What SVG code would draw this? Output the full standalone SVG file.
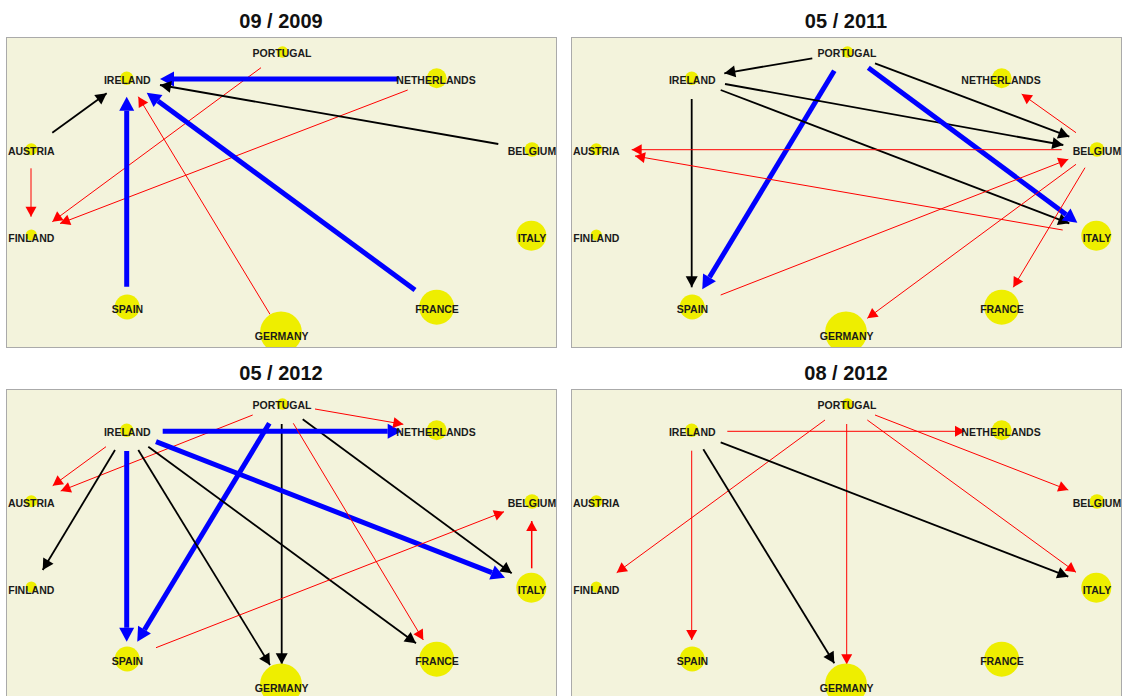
<svg xmlns="http://www.w3.org/2000/svg" width="1123" height="696" viewBox="0 0 1123 696">
<style>
.panel{fill:#f3f3dc;stroke:#aaaaaa;stroke-width:1}
.title{font-family:"Liberation Sans",Arial,sans-serif;font-weight:bold;font-size:20px;fill:#111;text-anchor:middle}
.lbl{font-family:"Liberation Sans",Arial,sans-serif;font-weight:bold;font-size:10.5px;fill:#1a1a1a;text-anchor:middle}
.v{fill:#eeee00}
.r{stroke:#ff0000;stroke-width:1;fill:none;marker-end:url(#mr)}
.k{stroke:#000;stroke-width:1.8;fill:none;marker-end:url(#mk)}
.b{stroke:#0000ff;stroke-width:5;fill:none;marker-end:url(#mb)}
</style>
<defs>
<marker id="mr" markerUnits="userSpaceOnUse" orient="auto" refX="10" refY="0" markerWidth="10" markerHeight="11" overflow="visible"><path d="M0,-5.5 L10,0 L0,5.5 Z" fill="#ff0000"/></marker>
<marker id="mk" markerUnits="userSpaceOnUse" orient="auto" refX="11" refY="0" markerWidth="11" markerHeight="12" overflow="visible"><path d="M0,-6 L11,0 L0,6 Z" fill="#000"/></marker>
<marker id="mb" markerUnits="userSpaceOnUse" orient="auto" refX="0" refY="0" markerWidth="14" markerHeight="15" overflow="visible"><path d="M0,-7.5 L14,0 L0,7.5 Z" fill="#0000ff"/></marker>
<clipPath id="cp"><rect x="6.5" y="37.5" width="550" height="310"/></clipPath>
</defs>
<rect width="1123" height="696" fill="#ffffff"/>

<g id="titles">
<text class="title" x="281" y="28">09 / 2009</text>
<text class="title" x="846" y="28">05 / 2011</text>
<text class="title" x="281" y="380">05 / 2012</text>
<text class="title" x="846" y="380">08 / 2012</text>
</g>

<g id="panels">
<rect class="panel" x="6.5" y="37.5" width="550" height="310"/>
<rect class="panel" x="571.5" y="37.5" width="550" height="310"/>
<rect class="panel" x="6.5" y="389.5" width="550" height="310"/>
<rect class="panel" x="571.5" y="389.5" width="550" height="310"/>
</g>

<g id="connectors">
<!-- panel 1 -->
<line class="k" x1="52.3" y1="132.7" x2="106.7" y2="93.3"/>
<line class="r" x1="261" y1="67.7" x2="52.3" y2="221.7"/>
<line class="r" x1="407.7" y1="90" x2="60" y2="223.5"/>
<line class="r" x1="31" y1="168.3" x2="31" y2="216.7"/>
<line class="b" x1="398.3" y1="79" x2="174" y2="79"/>
<line class="k" x1="498.3" y1="144" x2="160" y2="85"/>
<line class="b" x1="126.7" y1="286.7" x2="126.7" y2="110.7"/>
<line class="r" x1="270" y1="314.3" x2="138.3" y2="96.7"/>
<line class="b" x1="415" y1="290" x2="158" y2="101"/>
<!-- panel 2 -->
<line class="k" x1="812.3" y1="58.3" x2="724.3" y2="73.3"/>
<line class="k" x1="691.7" y1="99" x2="691.7" y2="287.3"/>
<line class="b" x1="834.3" y1="70.7" x2="709.5" y2="277.3"/>
<line class="k" x1="725" y1="84" x2="1063.3" y2="145"/>
<line class="k" x1="875" y1="63.3" x2="1069.3" y2="136.7"/>
<line class="k" x1="720.7" y1="90" x2="1069.3" y2="223.3"/>
<line class="b" x1="868.3" y1="67.7" x2="1066.1" y2="214.4"/>
<line class="r" x1="1061.7" y1="149.7" x2="631.7" y2="149.7"/>
<line class="r" x1="1062.7" y1="230" x2="635" y2="156"/>
<line class="r" x1="720.7" y1="295" x2="1068.3" y2="159.3"/>
<line class="r" x1="1076" y1="132.7" x2="1021.7" y2="94"/>
<line class="r" x1="1076" y1="164.3" x2="867.3" y2="318.3"/>
<line class="r" x1="1085" y1="167.7" x2="1013.3" y2="287.3"/>
<!-- panel 3 -->
<line class="r" x1="106" y1="446.7" x2="52.7" y2="485.7"/>
<line class="r" x1="252.7" y1="415" x2="60.7" y2="491"/>
<line class="k" x1="115" y1="450" x2="42.7" y2="570"/>
<line class="b" x1="126.7" y1="451" x2="126.7" y2="627.7"/>
<line class="b" x1="269.3" y1="423.3" x2="144.5" y2="629.7"/>
<line class="k" x1="138.3" y1="450" x2="270" y2="665"/>
<line class="k" x1="281.7" y1="424" x2="281.7" y2="664.3"/>
<line class="k" x1="148.3" y1="446.7" x2="416" y2="643.3"/>
<line class="k" x1="302.7" y1="419.3" x2="511.7" y2="573.3"/>
<line class="b" x1="156" y1="441.7" x2="492" y2="572.6"/>
<line class="b" x1="162.7" y1="431.3" x2="387.7" y2="431.3"/>
<line class="r" x1="315" y1="409" x2="403.3" y2="424.3"/>
<line class="r" x1="293.3" y1="423.3" x2="423.3" y2="640"/>
<line class="r" x1="156" y1="647.7" x2="504" y2="511.7"/>
<line class="r" x1="531.7" y1="568.3" x2="531.7" y2="521" style="stroke-width:1.5"/>
<!-- panel 4 -->
<line class="r" x1="727.3" y1="431.3" x2="965" y2="431.3"/>
<line class="r" x1="825" y1="420" x2="616.7" y2="572.7"/>
<line class="r" x1="691.7" y1="450.7" x2="691.7" y2="640"/>
<line class="k" x1="703.3" y1="449.3" x2="834.3" y2="663.3"/>
<line class="r" x1="846.7" y1="424" x2="846.7" y2="664.3"/>
<line class="k" x1="720.7" y1="442.3" x2="1068.3" y2="576.7"/>
<line class="r" x1="875" y1="415" x2="1068.3" y2="490"/>
<line class="r" x1="867.3" y1="420" x2="1076" y2="572.3"/>
</g>

<g id="panel1-nodes" clip-path="url(#cp)">
<g id="p1-ireland"><circle class="v" cx="126.7" cy="78.3" r="6.7"/><text class="lbl" x="127.3" y="84">IRELAND</text></g>
<g id="p1-portugal"><circle class="v" cx="282.5" cy="52" r="5.8"/><text class="lbl" x="282" y="57.3">PORTUGAL</text></g>
<g id="p1-netherlands"><circle class="v" cx="436.7" cy="78.3" r="10"/><text class="lbl" x="436" y="83.7">NETHERLANDS</text></g>
<g id="p1-austria"><circle class="v" cx="31.3" cy="149.2" r="6"/><text class="lbl" x="31.3" y="155">AUSTRIA</text></g>
<g id="p1-belgium"><circle class="v" cx="532" cy="149.5" r="7.3"/><text class="lbl" x="532" y="154.7">BELGIUM</text></g>
<g id="p1-finland"><circle class="v" cx="31.3" cy="235" r="5.5"/><text class="lbl" x="31.3" y="241.7">FINLAND</text></g>
<g id="p1-italy"><circle class="v" cx="531.3" cy="235.7" r="15"/><text class="lbl" x="532" y="241.7">ITALY</text></g>
<g id="p1-spain"><circle class="v" cx="127.2" cy="307" r="12.5"/><text class="lbl" x="127.5" y="313">SPAIN</text></g>
<g id="p1-germany"><circle class="v" cx="281" cy="332.5" r="21"/><text class="lbl" x="281.7" y="339.7">GERMANY</text></g>
<g id="p1-france"><circle class="v" cx="436.7" cy="307.2" r="17.5"/><text class="lbl" x="437" y="313">FRANCE</text></g>
</g>

<g transform="translate(565,0)">
<g id="panel2-nodes" clip-path="url(#cp)">
<g id="p2-ireland"><circle class="v" cx="126.7" cy="78.3" r="6.7"/><text class="lbl" x="127.3" y="84">IRELAND</text></g>
<g id="p2-portugal"><circle class="v" cx="282.5" cy="52" r="5.8"/><text class="lbl" x="282" y="57.3">PORTUGAL</text></g>
<g id="p2-netherlands"><circle class="v" cx="436.7" cy="78.3" r="10"/><text class="lbl" x="436" y="83.7">NETHERLANDS</text></g>
<g id="p2-austria"><circle class="v" cx="31.3" cy="149.2" r="6"/><text class="lbl" x="31.3" y="155">AUSTRIA</text></g>
<g id="p2-belgium"><circle class="v" cx="532" cy="149.5" r="7.3"/><text class="lbl" x="532" y="154.7">BELGIUM</text></g>
<g id="p2-finland"><circle class="v" cx="31.3" cy="235" r="5.5"/><text class="lbl" x="31.3" y="241.7">FINLAND</text></g>
<g id="p2-italy"><circle class="v" cx="531.3" cy="235.7" r="15"/><text class="lbl" x="532" y="241.7">ITALY</text></g>
<g id="p2-spain"><circle class="v" cx="127.2" cy="307" r="12.5"/><text class="lbl" x="127.5" y="313">SPAIN</text></g>
<g id="p2-germany"><circle class="v" cx="281" cy="332.5" r="21"/><text class="lbl" x="281.7" y="339.7">GERMANY</text></g>
<g id="p2-france"><circle class="v" cx="436.7" cy="307.2" r="17.5"/><text class="lbl" x="437" y="313">FRANCE</text></g>
</g>
</g>

<g transform="translate(0,352)">
<g id="panel3-nodes" clip-path="url(#cp)">
<g id="p3-ireland"><circle class="v" cx="126.7" cy="78.3" r="6.7"/><text class="lbl" x="127.3" y="84">IRELAND</text></g>
<g id="p3-portugal"><circle class="v" cx="282.5" cy="52" r="5.8"/><text class="lbl" x="282" y="57.3">PORTUGAL</text></g>
<g id="p3-netherlands"><circle class="v" cx="436.7" cy="78.3" r="10"/><text class="lbl" x="436" y="83.7">NETHERLANDS</text></g>
<g id="p3-austria"><circle class="v" cx="31.3" cy="149.2" r="6"/><text class="lbl" x="31.3" y="155">AUSTRIA</text></g>
<g id="p3-belgium"><circle class="v" cx="532" cy="149.5" r="7.3"/><text class="lbl" x="532" y="154.7">BELGIUM</text></g>
<g id="p3-finland"><circle class="v" cx="31.3" cy="235" r="5.5"/><text class="lbl" x="31.3" y="241.7">FINLAND</text></g>
<g id="p3-italy"><circle class="v" cx="531.3" cy="235.7" r="15"/><text class="lbl" x="532" y="241.7">ITALY</text></g>
<g id="p3-spain"><circle class="v" cx="127.2" cy="307" r="12.5"/><text class="lbl" x="127.5" y="313">SPAIN</text></g>
<g id="p3-germany"><circle class="v" cx="281" cy="332.5" r="21"/><text class="lbl" x="281.7" y="339.7">GERMANY</text></g>
<g id="p3-france"><circle class="v" cx="436.7" cy="307.2" r="17.5"/><text class="lbl" x="437" y="313">FRANCE</text></g>
</g>
</g>

<g transform="translate(565,352)">
<g id="panel4-nodes" clip-path="url(#cp)">
<g id="p4-ireland"><circle class="v" cx="126.7" cy="78.3" r="6.7"/><text class="lbl" x="127.3" y="84">IRELAND</text></g>
<g id="p4-portugal"><circle class="v" cx="282.5" cy="52" r="5.8"/><text class="lbl" x="282" y="57.3">PORTUGAL</text></g>
<g id="p4-netherlands"><circle class="v" cx="436.7" cy="78.3" r="10"/><text class="lbl" x="436" y="83.7">NETHERLANDS</text></g>
<g id="p4-austria"><circle class="v" cx="31.3" cy="149.2" r="6"/><text class="lbl" x="31.3" y="155">AUSTRIA</text></g>
<g id="p4-belgium"><circle class="v" cx="532" cy="149.5" r="7.3"/><text class="lbl" x="532" y="154.7">BELGIUM</text></g>
<g id="p4-finland"><circle class="v" cx="31.3" cy="235" r="5.5"/><text class="lbl" x="31.3" y="241.7">FINLAND</text></g>
<g id="p4-italy"><circle class="v" cx="531.3" cy="235.7" r="15"/><text class="lbl" x="532" y="241.7">ITALY</text></g>
<g id="p4-spain"><circle class="v" cx="127.2" cy="307" r="12.5"/><text class="lbl" x="127.5" y="313">SPAIN</text></g>
<g id="p4-germany"><circle class="v" cx="281" cy="332.5" r="21"/><text class="lbl" x="281.7" y="339.7">GERMANY</text></g>
<g id="p4-france"><circle class="v" cx="436.7" cy="307.2" r="17.5"/><text class="lbl" x="437" y="313">FRANCE</text></g>
</g>
</g>

<g id="panel-borders" fill="none" stroke="#aaaaaa" stroke-width="1">
<rect x="6.5" y="37.5" width="550" height="310"/>
<rect x="571.5" y="37.5" width="550" height="310"/>
<rect x="6.5" y="389.5" width="550" height="310"/>
<rect x="571.5" y="389.5" width="550" height="310"/>
</g>
</svg>
